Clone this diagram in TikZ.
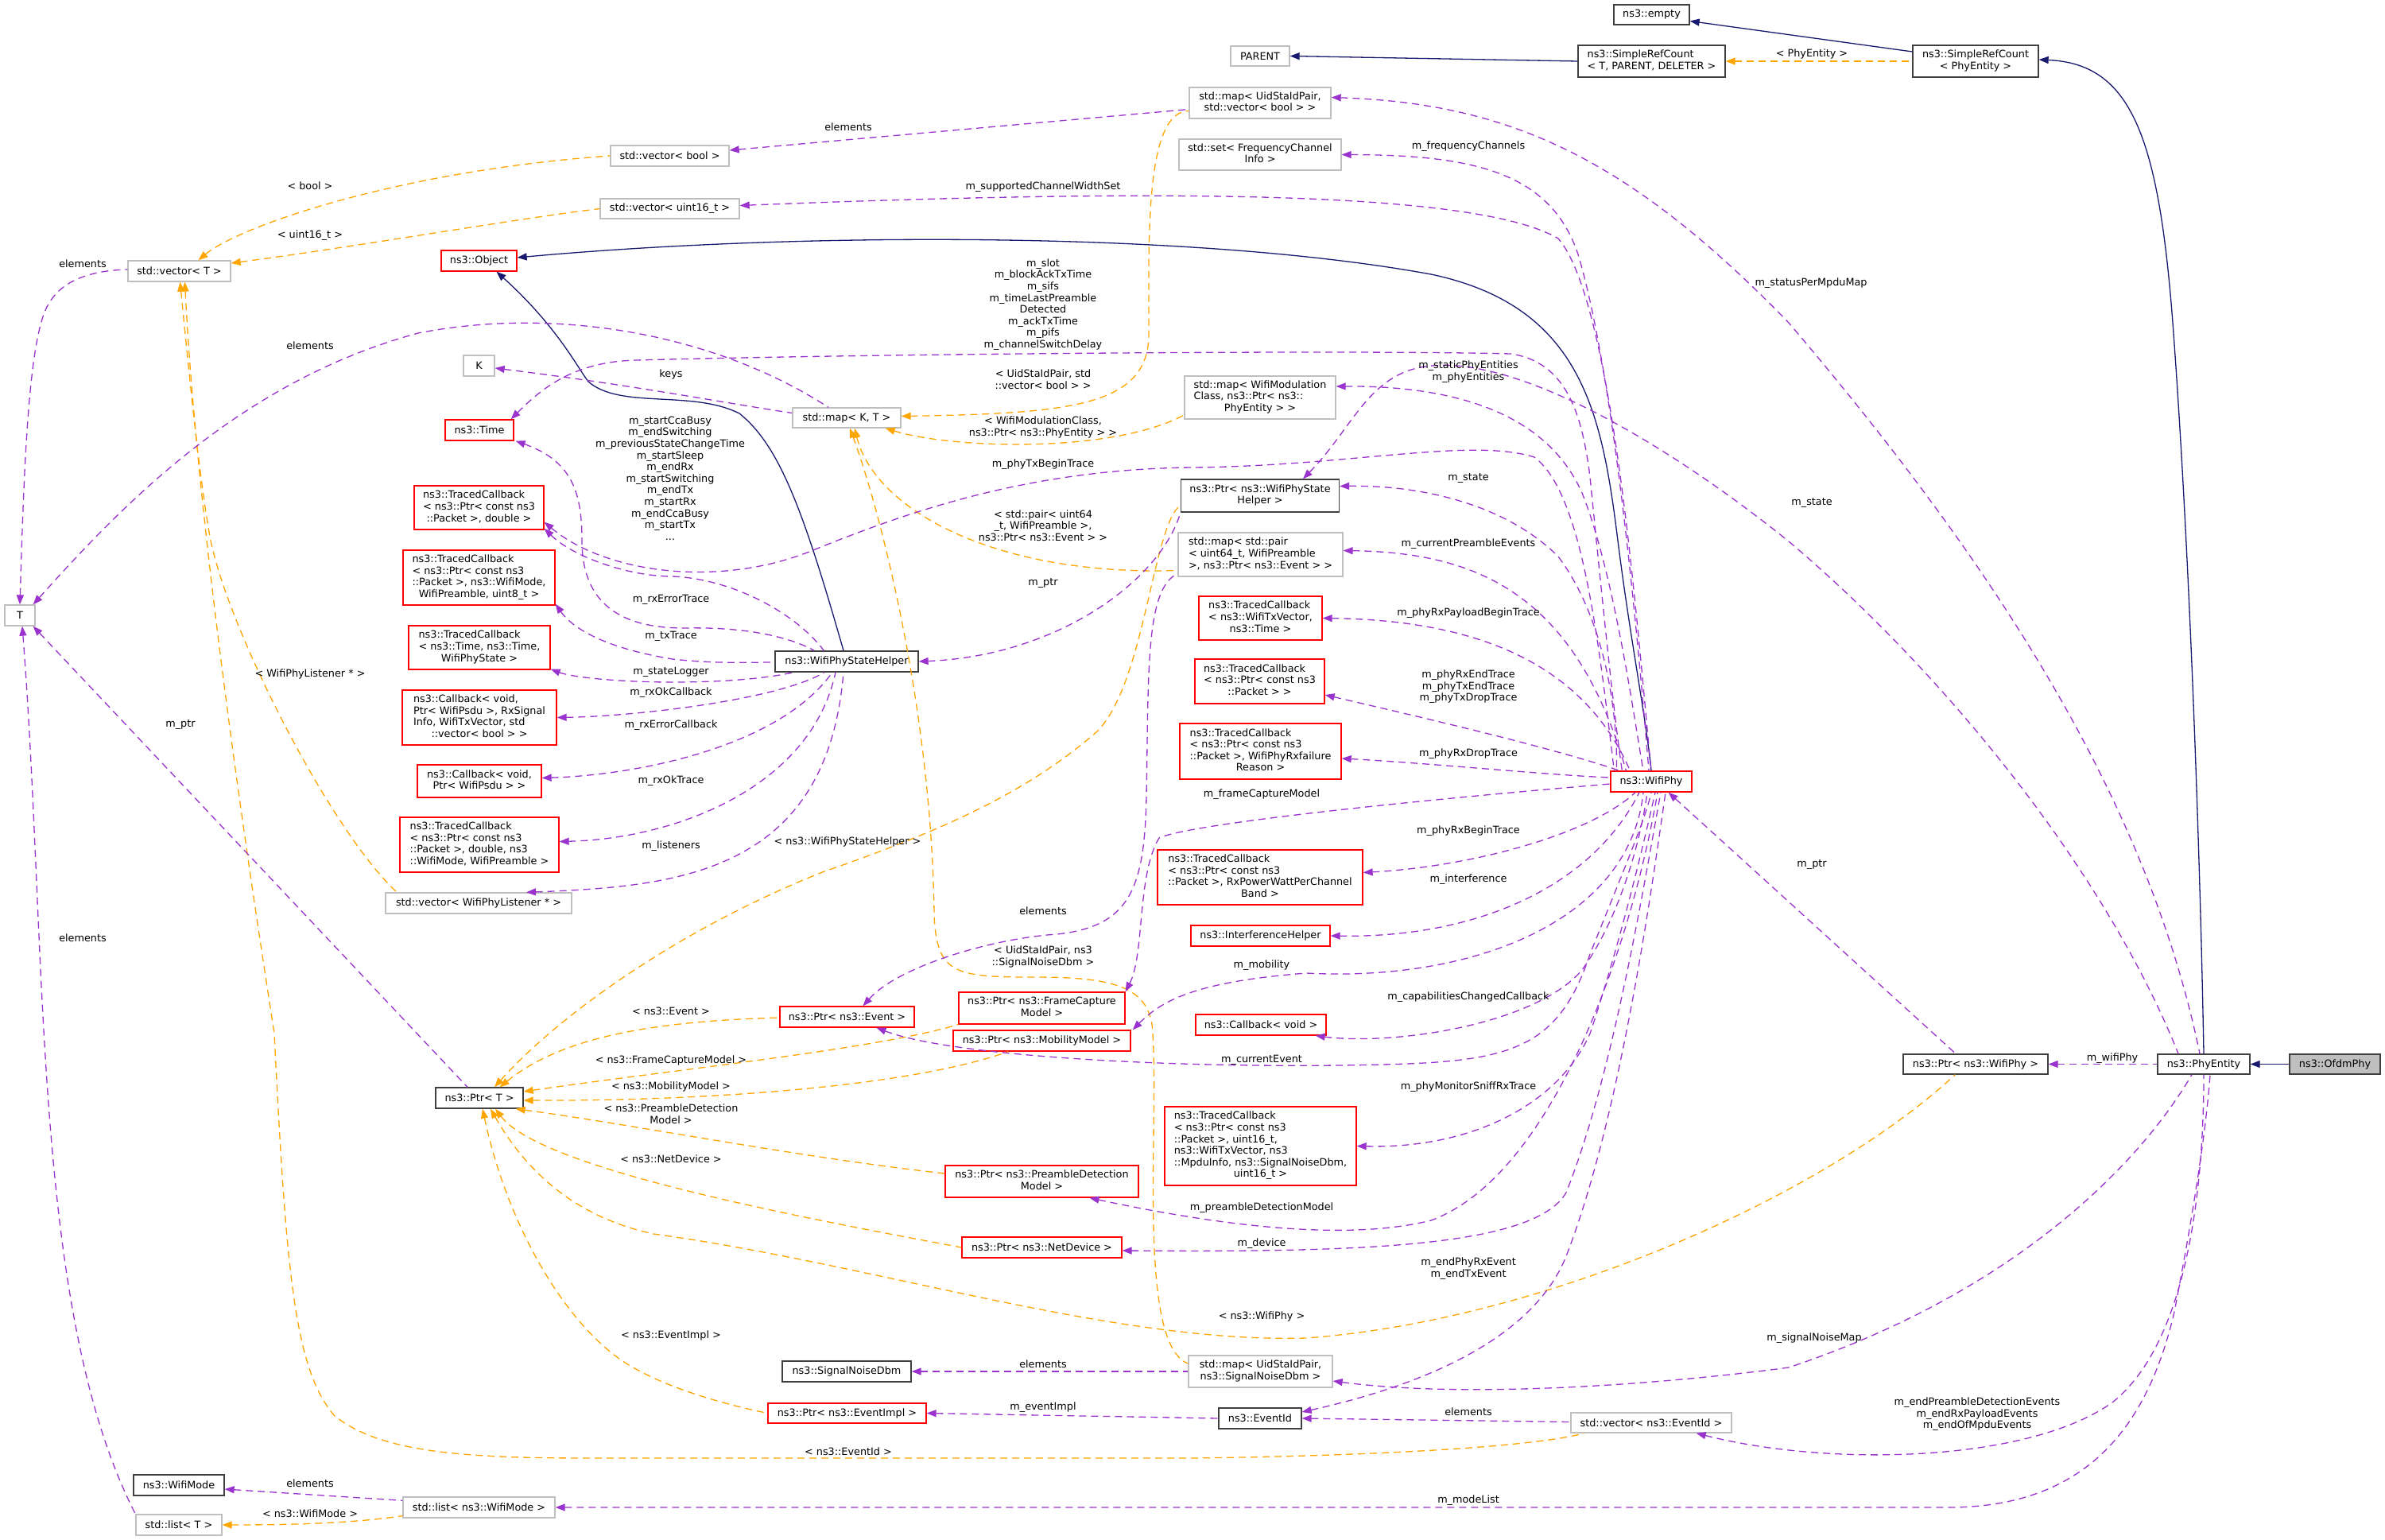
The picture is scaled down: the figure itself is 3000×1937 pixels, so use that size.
\documentclass[tikz,border=0pt]{standalone}
\usepackage{fontspec}
\setmainfont{DejaVu Sans}
\usetikzlibrary{arrows.meta,calc}
\definecolor{dxnavy}{HTML}{191970}
\definecolor{dxorange}{HTML}{FFA500}
\definecolor{dxpurple}{HTML}{9A32CD}
\definecolor{dxred}{HTML}{FF0000}
\definecolor{dxgray}{HTML}{BFBFBF}
\definecolor{dxblack}{HTML}{404040}
\newcommand{\dxfont}{\fontsize{12.8}{14.6}\selectfont}
\newcommand{\dxml}[1]{\begin{tabular}{@{}l@{}}#1\end{tabular}}
\newcommand{\dxlast}[1]{\multicolumn{1}{@{}c@{}}{#1}}
\tikzset{
  dxbox/.style={rectangle, line width=1.3pt, inner sep=2pt, font=\dxfont, fill=white},
  rbox/.style={dxbox, draw=dxred},
  gbox/.style={dxbox, draw=dxgray},
  kbox/.style={dxbox, draw=dxblack},
  fbox/.style={dxbox, draw=dxblack, fill=dxgray},
  dxlbl/.style={font=\dxfont, inner sep=0pt, align=center},
  dxinh/.style={draw=dxnavy, line width=1.3pt, arrows={Triangle[length=12pt,width=9pt]-}},
  dxtmp/.style={draw=dxorange, line width=1.3pt, dash pattern=on 9pt off 6pt, arrows={Triangle[length=12pt,width=9pt]-}},
  dxuse/.style={draw=dxpurple, line width=1.3pt, dash pattern=on 9pt off 6pt, arrows={Triangle[length=12pt,width=9pt]-}}
}
\begin{document}
\begin{tikzpicture}[x=1pt,y=-1pt]
\useasboundingbox (0,0) rectangle (3000,1937);
% ---------- edges first (under nodes) ----------
\path (0,0);
% nodes
\node[kbox,minimum width=95pt,minimum height=25pt] (empty) at (2077.5,18.5) {ns3::empty};
\node[gbox,minimum width=74pt,minimum height=25pt] (parent) at (1585,70.5) {PARENT};
\node[kbox,minimum width=185pt,minimum height=40pt] (srcTPD) at (2077.5,77) {\dxml{ns3::SimpleRefCount\\\dxlast{< T, PARENT, DELETER >}}};
\node[kbox,minimum width=158pt,minimum height=40pt] (srcPE) at (2485,77) {\dxml{ns3::SimpleRefCount\\\dxlast{< PhyEntity >}}};
\node[gbox,minimum width=178pt,minimum height=39pt] (mapUidVB) at (1585,129.5) {\dxml{std::map< UidStaIdPair,\\\dxlast{std::vector< bool > >}}};
\node[gbox,minimum width=149pt,minimum height=26pt] (vecBool) at (842.5,196) {std::vector< bool >};
\node[gbox,minimum width=204pt,minimum height=39pt] (setFCI) at (1585,194.5) {\dxml{std::set< FrequencyChannel\\\dxlast{Info >}}};
\node[gbox,minimum width=175pt,minimum height=25pt] (vecU16) at (842.5,262.5) {std::vector< uint16\_t >};
\node[rbox,minimum width=95pt,minimum height=26pt] (object) at (602.5,328) {ns3::Object};
\node[gbox,minimum width=129pt,minimum height=26pt] (vecT) at (225.5,341) {std::vector< T >};
\node[gbox,minimum width=39pt,minimum height=26pt] (K) at (602.5,460) {K};
\node[rbox,minimum width=86pt,minimum height=26pt] (time) at (603,541) {ns3::Time};
\node[gbox,minimum width=136pt,minimum height=25pt] (mapKT) at (1065,525.5) {std::map< K, T >};
\node[gbox,minimum width=190pt,minimum height=54pt] (mapWMC) at (1585,500) {\dxml{std::map< WifiModulation\\Class, ns3::Ptr< ns3::\\\dxlast{PhyEntity > >}}};
\node[kbox,minimum width=199pt,minimum height=41pt] (ptrWPSH) at (1585,623.5) {\dxml{ns3::Ptr< ns3::WifiPhyState\\\dxlast{Helper >}}};
\node[gbox,minimum width=207pt,minimum height=55pt] (mapPair) at (1585.5,697.5) {\dxml{std::map< std::pair\\< uint64\_t, WifiPreamble\\\dxlast{>, ns3::Ptr< ns3::Event > >}}};
\node[rbox,minimum width=163pt,minimum height=55pt] (tc1) at (602.5,638.5) {\dxml{ns3::TracedCallback\\< ns3::Ptr< const ns3\\\dxlast{::Packet >, double >}}};
\node[rbox,minimum width=191pt,minimum height=69pt] (tc2) at (602.5,726.5) {\dxml{ns3::TracedCallback\\< ns3::Ptr< const ns3\\::Packet >, ns3::WifiMode,\\\dxlast{WifiPreamble, uint8\_t >}}};
\node[rbox,minimum width=178pt,minimum height=55pt] (tc3) at (603,814.5) {\dxml{ns3::TracedCallback\\< ns3::Time, ns3::Time,\\\dxlast{WifiPhyState >}}};
\node[rbox,minimum width=194pt,minimum height=69pt] (cb1) at (603,902.5) {\dxml{ns3::Callback< void,\\Ptr< WifiPsdu >, RxSignal\\Info, WifiTxVector, std\\\dxlast{::vector< bool > >}}};
\node[rbox,minimum width=156pt,minimum height=41pt] (cb2) at (603,982.5) {\dxml{ns3::Callback< void,\\\dxlast{Ptr< WifiPsdu > >}}};
\node[rbox,minimum width=200pt,minimum height=69pt] (tc4) at (603,1062.5) {\dxml{ns3::TracedCallback\\< ns3::Ptr< const ns3\\::Packet >, double, ns3\\\dxlast{::WifiMode, WifiPreamble >}}};
\node[gbox,minimum width=234pt,minimum height=26pt] (vecWPL) at (602,1136) {std::vector< WifiPhyListener * >};
\node[gbox,minimum width=38pt,minimum height=26pt] (T) at (25,774) {T};
\node[kbox,minimum width=180pt,minimum height=26pt] (wpsh) at (1065,832) {ns3::WifiPhyStateHelper};
\node[rbox,minimum width=169pt,minimum height=26pt] (ptrEvent) at (1065.5,1279) {ns3::Ptr< ns3::Event >};
\node[rbox,minimum width=209pt,minimum height=40pt] (ptrFCM) at (1310.5,1268) {\dxml{ns3::Ptr< ns3::FrameCapture\\\dxlast{Model >}}};
\node[rbox,minimum width=223pt,minimum height=26pt] (ptrMob) at (1310.5,1309) {ns3::Ptr< ns3::MobilityModel >};
\node[kbox,minimum width=110pt,minimum height=26pt] (ptrT) at (603,1381) {ns3::Ptr< T >};
\node[rbox,minimum width=243pt,minimum height=40pt] (ptrPDM) at (1310.5,1486) {\dxml{ns3::Ptr< ns3::PreambleDetection\\\dxlast{Model >}}};
\node[rbox,minimum width=201pt,minimum height=26pt] (ptrND) at (1310.5,1569) {ns3::Ptr< ns3::NetDevice >};
\node[kbox,minimum width=162pt,minimum height=26pt] (snd) at (1065,1725) {ns3::SignalNoiseDbm};
\node[rbox,minimum width=199pt,minimum height=25pt] (ptrEI) at (1065.5,1777.5) {ns3::Ptr< ns3::EventImpl >};
\node[gbox,minimum width=181pt,minimum height=40pt] (mapSND) at (1585.5,1725) {\dxml{std::map< UidStaIdPair,\\\dxlast{ns3::SignalNoiseDbm >}}};
\node[kbox,minimum width=104pt,minimum height=26pt] (eventId) at (1585,1784) {ns3::EventId};
\node[gbox,minimum width=202pt,minimum height=25pt] (vecEI) at (2077,1789.5) {std::vector< ns3::EventId >};
\node[kbox,minimum width=114pt,minimum height=26pt] (wifiMode) at (225,1868) {ns3::WifiMode};
\node[gbox,minimum width=191pt,minimum height=26pt] (listWM) at (602.5,1896) {std::list< ns3::WifiMode >};
\node[gbox,minimum width=108pt,minimum height=26pt] (listT) at (225,1918) {std::list< T >};
\node[rbox,minimum width=102pt,minimum height=26pt] (wifiPhy) at (2077,983) {ns3::WifiPhy};
\node[rbox,minimum width=155pt,minimum height=55pt] (tcTxV) at (1585.5,777.5) {\dxml{ns3::TracedCallback\\< ns3::WifiTxVector,\\\dxlast{ns3::Time >}}};
\node[rbox,minimum width=163pt,minimum height=56pt] (tcPkt) at (1584.5,857) {\dxml{ns3::TracedCallback\\< ns3::Ptr< const ns3\\\dxlast{::Packet > >}}};
\node[rbox,minimum width=203pt,minimum height=70pt] (tcFail) at (1585.5,945) {\dxml{ns3::TracedCallback\\< ns3::Ptr< const ns3\\::Packet >, WifiPhyRxfailure\\\dxlast{Reason >}}};
\node[rbox,minimum width=258pt,minimum height=69pt] (tcRxPow) at (1585,1103.5) {\dxml{ns3::TracedCallback\\< ns3::Ptr< const ns3\\::Packet >, RxPowerWattPerChannel\\\dxlast{Band >}}};
\node[rbox,minimum width=175pt,minimum height=26pt] (interf) at (1585.5,1177) {ns3::InterferenceHelper};
\node[rbox,minimum width=164pt,minimum height=26pt] (cbVoid) at (1586,1289) {ns3::Callback< void >};
\node[rbox,minimum width=241pt,minimum height=99pt] (tcSniff) at (1585.5,1441.5) {\dxml{ns3::TracedCallback\\< ns3::Ptr< const ns3\\::Packet >, uint16\_t,\\ns3::WifiTxVector, ns3\\::MpduInfo, ns3::SignalNoiseDbm,\\\dxlast{uint16\_t >}}};
\node[kbox,minimum width=182pt,minimum height=25pt] (ptrWP) at (2485,1338.5) {ns3::Ptr< ns3::WifiPhy >};
\node[kbox,minimum width=116pt,minimum height=25pt] (phyEntity) at (2772,1338.5) {ns3::PhyEntity};
\node[fbox,minimum width=114pt,minimum height=25pt] (ofdm) at (2937,1338.5) {ns3::OfdmPhy};

% ---------- inheritance ----------
\draw[dxinh] ($(empty.east)+(0,8)$) -- ($(srcPE.west)+(0,-12)$);
\draw[dxinh] (parent.east) -- (srcTPD.west);
\draw[dxinh] ($(srcPE.east)+(0,-2)$) .. controls (2680,80) and (2715,170) .. (2733,406) .. controls (2755,700) and (2768,1100) .. (phyEntity.north);
\draw[dxinh] ($(object.east)+(0,-4)$) .. controls (1000,292) and (1500,290) .. (1800,345) .. controls (1990,385) and (2015,520) .. (2035,680) .. controls (2050,800) and (2070,900) .. (wifiPhy.north);
\draw[dxinh] ($(object.south)+(22,0)$) .. controls (700,410) and (725,460) .. (740,480) .. controls (780,515) and (870,490) .. (930,520) .. controls (980,560) and (1010,640) .. ($(wpsh.north)+(-4,0)$);
\draw[dxinh] (phyEntity.east) -- (ofdm.west);

% ---------- template instances ----------
\draw[dxtmp] (srcTPD.east) -- (srcPE.west);
\draw[dxtmp] ($(vecT.north)+(24,0)$) .. controls (300,285) and (500,215) .. (vecBool.west);
\draw[dxtmp] ($(vecT.east)+(0,-10)$) .. controls (450,310) and (650,275) .. (vecU16.west);
\draw[dxtmp] ($(vecT.south)+(1,0)$) .. controls (236,450) and (250,600) .. (265,680) .. controls (290,800) and (420,1050) .. ($(vecWPL.north west)+(15,0)$);
\draw[dxtmp] ($(vecT.south)+(7,0)$) .. controls (250,700) and (330,1200) .. (345,1300) .. controls (360,1600) and (370,1720) .. (420,1780) .. controls (480,1830) and (600,1834) .. (750,1834) -- (1500,1834) .. controls (1800,1830) and (1950,1815) .. ($(vecEI.south west)+(17,0)$);
\draw[dxtmp] ($(mapKT.east)+(0,-2)$) .. controls (1350,520) and (1445,510) .. (1445,420) .. controls (1445,300) and (1440,140) .. ($(mapUidVB.west)+(0,10)$);
\draw[dxtmp] ($(mapKT.south east)+(-20,0)$) .. controls (1200,565) and (1400,570) .. ($(mapWMC.west)+(0,22)$);
\draw[dxtmp] ($(mapKT.south)+(10,0)$) .. controls (1100,640) and (1250,725) .. ($(mapPair.west)+(0,20)$);
\draw[dxtmp] ($(mapKT.south)+(4,0)$) .. controls (1110,650) and (1172,900) .. (1175,1150) .. controls (1178,1225) and (1200,1229) .. (1300,1229) .. controls (1400,1229) and (1448,1240) .. (1450,1300) .. controls (1458,1420) and (1430,1690) .. ($(mapSND.west)+(0,-10)$);
\draw[dxtmp] ($(ptrT.north)+(19,0)$) .. controls (700,1280) and (850,1170) .. (1037,1096) .. controls (1200,1040) and (1300,990) .. (1380,920) .. controls (1440,860) and (1450,660) .. ($(ptrWPSH.west)+(0,12)$);
\draw[dxtmp] ($(ptrT.north east)+(-30,0)$) .. controls (700,1310) and (800,1285) .. ($(ptrEvent.west)+(0,1)$);
\draw[dxtmp] ($(ptrT.east)+(0,-8)$) .. controls (850,1345) and (1100,1320) .. (ptrFCM.south west);
\draw[dxtmp] ($(ptrT.east)+(0,3)$) .. controls (900,1385) and (1150,1365) .. ($(ptrMob.south west)+(70,0)$);
\draw[dxtmp] ($(ptrT.south east)+(-10,0)$) .. controls (800,1415) and (1000,1455) .. ($(ptrPDM.west)+(0,-10)$);
\draw[dxtmp] ($(ptrT.south)+(20,0)$) .. controls (680,1470) and (1000,1530) .. (ptrND.west);
\draw[dxtmp] ($(ptrT.south)+(14,0)$) .. controls (660,1470) and (720,1530) .. (822,1552) .. controls (1100,1590) and (1400,1690) .. (1643,1683) .. controls (1950,1660) and (2300,1500) .. ($(ptrWP.south west)+(66,0)$);
\draw[dxtmp] ($(ptrT.south)+(4,0)$) .. controls (640,1550) and (720,1680) .. (800,1722) .. controls (850,1750) and (920,1768) .. (ptrEI.west);
\draw[dxtmp] (listT.east) .. controls (380,1918) and (450,1915) .. ($(listWM.south west)+(0,-3)$);

% ---------- usage (purple) ----------
\draw[dxuse] (T.north) .. controls (30,600) and (35,420) .. (62,381) .. controls (80,350) and (120,340) .. ($(vecT.west)+(0,-2)$);
\draw[dxuse] ($(K.east)+(0,3)$) .. controls (800,485) and (900,505) .. ($(mapKT.west)+(0,-6)$);
\draw[dxuse] ($(T.north east)+(-3,0)$) .. controls (150,640) and (300,480) .. (526,419) .. controls (700,385) and (900,420) .. ($(mapKT.north)+(-23,0)$);
\draw[dxuse] ($(T.south east)+(-3,0)$) -- ($(ptrT.north)+(-15,0)$);
\draw[dxuse] ($(T.south)+(3,0)$) .. controls (60,1200) and (40,1650) .. (listT.north west);
\draw[dxuse] ($(vecBool.east)+(0,-7)$) -- ($(mapUidVB.west)+(0,8)$);
\draw[dxuse] ($(wifiMode.east)+(0,5)$) -- ($(listWM.north west)+(0,5)$);
\draw[dxuse] (snd.east) -- (mapSND.west);
\draw[dxuse] (eventId.east) -- ($(vecEI.west)+(0,-1)$);
\draw[dxuse] (ptrEI.east) -- (eventId.west);
\draw[dxuse] ($(ptrEvent.north)+(20,0)$) .. controls (1130,1215) and (1250,1180) .. (1330,1175) .. controls (1420,1165) and (1440,1120) .. (1442,1000) .. controls (1445,850) and (1440,740) .. ($(mapPair.west)+(0,24)$);
\draw[dxuse] (wpsh.east) .. controls (1330,825) and (1460,730) .. (ptrWPSH.south west);
% WifiPhyStateHelper members
\draw[dxuse] ($(tc1.south east)+(0,-2)$) .. controls (720,700) and (790,725) .. (846,725) .. controls (920,728) and (1000,770) .. ($(wpsh.north west)+(62,0)$);
\draw[dxuse] ($(time.south east)+(2,0)$) .. controls (720,580) and (732,620) .. (732,680) .. controls (732,750) and (770,790) .. (860,790) .. controls (950,788) and (1000,805) .. ($(wpsh.north west)+(50,0)$);
\draw[dxuse] ($(tc2.south east)+(0,-2)$) .. controls (720,790) and (760,815) .. (846,829) .. controls (900,835) and (940,833) .. ($(wpsh.west)+(0,1)$);
\draw[dxuse] ($(tc3.south east)+(0,-1)$) .. controls (720,852) and (780,858) .. (846,858) .. controls (920,858) and (970,852) .. ($(wpsh.south west)+(24,0)$);
\draw[dxuse] (cb1.east) .. controls (800,901) and (980,880) .. ($(wpsh.south)+(-28,0)$);
\draw[dxuse] ($(cb2.east)+(0,-4)$) .. controls (800,975) and (980,940) .. ($(wpsh.south)+(-18,0)$);
\draw[dxuse] ($(tc4.east)+(0,-4)$) .. controls (850,1055) and (1020,990) .. ($(wpsh.south)+(-14,0)$);
\draw[dxuse] ($(vecWPL.north)+(60,0)$) .. controls (850,1115) and (1040,1100) .. ($(wpsh.south)+(-4,0)$);
% WifiPhy members
\draw[dxuse] (setFCI.east) .. controls (1850,195) and (1950,215) .. (1985,320) .. controls (2030,470) and (2060,800) .. ($(wifiPhy.north)+(-3,0)$);
\draw[dxuse] ($(vecU16.east)+(0,-4)$) .. controls (1400,240) and (1850,235) .. (1960,300) .. controls (2030,380) and (2060,800) .. (wifiPhy.north);
\draw[dxuse] ($(time.north east)+(-4,0)$) .. controls (680,490) and (720,455) .. (800,453) .. controls (1100,445) and (1700,440) .. (1900,445) .. controls (1970,455) and (1990,520) .. (2000,600) .. controls (2015,750) and (2030,900) .. ($(wifiPhy.north west)+(15,0)$);
\draw[dxuse] ($(mapWMC.east)+(0,-14)$) .. controls (1850,485) and (1950,530) .. (1990,620) .. controls (2030,720) and (2055,900) .. ($(wifiPhy.north)+(-10,0)$);
\draw[dxuse] ($(ptrWPSH.east)+(0,-12)$) .. controls (1800,610) and (1900,640) .. (1960,700) .. controls (2020,780) and (2035,900) .. ($(wifiPhy.north west)+(8,0)$);
\draw[dxuse] ($(tc1.south east)+(0,-10)$) .. controls (760,720) and (900,740) .. (1018,694) .. controls (1150,640) and (1300,590) .. (1500,588) .. controls (1700,586) and (1850,550) .. (1930,575) .. controls (1990,620) and (2010,800) .. ($(wifiPhy.north west)+(5,0)$);
\draw[dxuse] ($(mapPair.east)+(0,-5)$) .. controls (1850,695) and (1980,740) .. ($(wifiPhy.north west)+(20,0)$);
\draw[dxuse] (tcTxV.east) .. controls (1850,780) and (1990,830) .. ($(wifiPhy.north west)+(25,0)$);
\draw[dxuse] ($(tcPkt.east)+(0,17)$) .. controls (1800,905) and (1950,940) .. ($(wifiPhy.north west)+(12,0)$);
\draw[dxuse] ($(tcFail.east)+(0,9)$) .. controls (1800,960) and (1950,975) .. ($(wifiPhy.west)+(0,-5)$);
\draw[dxuse] (ptrFCM.north east) .. controls (1440,1200) and (1430,1100) .. (1458,1054) .. controls (1500,1035) and (1800,1005) .. ($(wifiPhy.west)+(0,3)$);
\draw[dxuse] ($(tcRxPow.east)+(0,-6)$) .. controls (1850,1090) and (2000,1050) .. ($(wifiPhy.south)+(-20,0)$);
\draw[dxuse] (interf.east) .. controls (1850,1180) and (2000,1120) .. ($(wifiPhy.south)+(-15,0)$);
\draw[dxuse] ($(ptrMob.north east)+(2,0)$) .. controls (1460,1260) and (1500,1235) .. (1643,1224) .. controls (1850,1235) and (2050,1160) .. ($(wifiPhy.south)+(-10,0)$);
\draw[dxuse] ($(cbVoid.south east)+(-14,0)$) .. controls (1750,1315) and (1930,1290) .. (1990,1220) .. controls (2040,1150) and (2065,1050) .. ($(wifiPhy.south)+(-5,0)$);
\draw[dxuse] ($(ptrEvent.south)+(37,0)$) .. controls (1200,1330) and (1500,1345) .. (1739,1339) .. controls (1900,1335) and (1960,1320) .. (2000,1200) .. controls (2040,1100) and (2070,1030) .. (wifiPhy.south);
\draw[dxuse] (tcSniff.east) .. controls (1850,1445) and (1960,1390) .. (2000,1300) .. controls (2040,1180) and (2070,1050) .. ($(wifiPhy.south)+(5,0)$);
\draw[dxuse] ($(ptrPDM.south)+(60,0)$) .. controls (1550,1545) and (1700,1560) .. (1800,1535) .. controls (1950,1480) and (2050,1200) .. ($(wifiPhy.south)+(8,0)$);
\draw[dxuse] ($(ptrND.east)+(0,4)$) .. controls (1700,1575) and (1930,1570) .. (1970,1500) .. controls (2030,1350) and (2070,1100) .. ($(wifiPhy.south)+(12,0)$);
\draw[dxuse] ($(eventId.east)+(0,-8)$) .. controls (1800,1740) and (1930,1680) .. (1970,1580) .. controls (2040,1400) and (2080,1100) .. ($(wifiPhy.south)+(18,0)$);
% PhyEntity members
\draw[dxuse] ($(mapUidVB.east)+(0,-7)$) .. controls (1900,130) and (2050,200) .. (2250,406) .. controls (2500,700) and (2700,1000) .. ($(phyEntity.north)+(-5,0)$);
\draw[dxuse] ($(ptrWPSH.north)+(54,0)$) .. controls (1700,540) and (1720,475) .. (1787,462) .. controls (1900,440) and (2100,560) .. (2250,681) .. controls (2450,850) and (2650,1100) .. ($(phyEntity.north)+(-32,0)$);
\draw[dxuse] (ptrWP.east) -- (phyEntity.west);
\draw[dxuse] ($(mapSND.east)+(0,12)$) .. controls (1850,1760) and (2100,1740) .. (2250,1720) .. controls (2550,1620) and (2700,1450) .. ($(phyEntity.south)+(-15,0)$);
\draw[dxuse] ($(vecEI.south east)+(-45,0)$) .. controls (2300,1845) and (2550,1840) .. (2657,1764) .. controls (2750,1690) and (2772,1500) .. (phyEntity.south);
\draw[dxuse] (listWM.east) -- (2450,1896) .. controls (2620,1896) and (2700,1800) .. (2735,1650) .. controls (2760,1520) and (2775,1420) .. ($(phyEntity.south)+(8,0)$);
\draw[dxuse] ($(wifiPhy.south east)+(-30,0)$) -- ($(ptrWP.north)+(-25,0)$);

% ---------- labels ----------
\node[dxlbl] (l01) at (2279,68) {< PhyEntity >};
\node[dxlbl] (l02) at (1067,160) {elements};
\node[dxlbl] (l03) at (390,234) {< bool >};
\node[dxlbl] (l04) at (390,296) {< uint16\_t >};
\node[dxlbl] (l05) at (104,332) {elements};
\node[dxlbl] (l06) at (1847,184) {m\_frequencyChannels};
\node[dxlbl] (l07) at (1312,235) {m\_supportedChannelWidthSet};
\node[dxlbl] (l08) at (2278,356) {m\_statusPerMpduMap};
\node[dxlbl] (l09) at (1312,383) {m\_slot\\m\_blockAckTxTime\\m\_sifs\\m\_timeLastPreamble\\Detected\\m\_ackTxTime\\m\_pifs\\m\_channelSwitchDelay};
\node[dxlbl] (l10) at (390,435) {elements};
\node[dxlbl] (l11) at (844,471) {keys};
\node[dxlbl] (l12) at (1312,477) {< UidStaIdPair, std\\::vector< bool > >};
\node[dxlbl] (l13) at (1847,467.5) {m\_staticPhyEntities\\m\_phyEntities};
\node[dxlbl] (l14) at (1312,537.5) {< WifiModulationClass,\\ns3::Ptr< ns3::PhyEntity > >};
\node[dxlbl] (l15) at (1312,584) {m\_phyTxBeginTrace};
\node[dxlbl] (l16) at (843,601.5) {m\_startCcaBusy\\m\_endSwitching\\m\_previousStateChangeTime\\m\_startSleep\\m\_endRx\\m\_startSwitching\\m\_endTx\\m\_startRx\\m\_endCcaBusy\\m\_startTx\\...};
\node[dxlbl] (l17) at (2279,633) {m\_state};
\node[dxlbl] (l18) at (1847,602) {m\_state};
\node[dxlbl] (l19) at (1312,661) {< std::pair< uint64\\\_t, WifiPreamble >,\\ns3::Ptr< ns3::Event > >};
\node[dxlbl] (l20) at (1847,684) {m\_currentPreambleEvents};
\node[dxlbl] (l21) at (1312,734) {m\_ptr};
\node[dxlbl] (l22) at (844,754) {m\_rxErrorTrace};
\node[dxlbl] (l23) at (1847,771) {m\_phyRxPayloadBeginTrace};
\node[dxlbl] (l24) at (844,800) {m\_txTrace};
\node[dxlbl] (l25) at (844,845) {m\_stateLogger};
\node[dxlbl] (l26) at (390,848) {< WifiPhyListener * >};
\node[dxlbl] (l27) at (1847,864) {m\_phyRxEndTrace\\m\_phyTxEndTrace\\m\_phyTxDropTrace};
\node[dxlbl] (l28) at (844,871) {m\_rxOkCallback};
\node[dxlbl] (l29) at (227,912) {m\_ptr};
\node[dxlbl] (l30) at (844,912) {m\_rxErrorCallback};
\node[dxlbl] (l31) at (1847,948) {m\_phyRxDropTrace};
\node[dxlbl] (l32) at (844,982) {m\_rxOkTrace};
\node[dxlbl] (l33) at (1587,999) {m\_frameCaptureModel};
\node[dxlbl] (l34) at (1847,1045) {m\_phyRxBeginTrace};
\node[dxlbl] (l35) at (1066,1059) {< ns3::WifiPhyStateHelper >};
\node[dxlbl] (l36) at (844,1064) {m\_listeners};
\node[dxlbl] (l37) at (2279,1088) {m\_ptr};
\node[dxlbl] (l38) at (1847,1106) {m\_interference};
\node[dxlbl] (l39) at (1312,1146) {elements};
\node[dxlbl] (l40) at (104,1180) {elements};
\node[dxlbl] (l41) at (1312,1203.5) {< UidStaIdPair, ns3\\::SignalNoiseDbm >};
\node[dxlbl] (l42) at (1587,1214) {m\_mobility};
\node[dxlbl] (l43) at (1847,1254) {m\_capabilitiesChangedCallback};
\node[dxlbl] (l44) at (844,1272) {< ns3::Event >};
\node[dxlbl] (l45) at (2657,1331) {m\_wifiPhy};
\node[dxlbl] (l46) at (1587,1333) {m\_currentEvent};
\node[dxlbl] (l47) at (844,1334) {< ns3::FrameCaptureModel >};
\node[dxlbl] (l48) at (1847,1367) {m\_phyMonitorSniffRxTrace};
\node[dxlbl] (l49) at (844,1367) {< ns3::MobilityModel >};
\node[dxlbl] (l50) at (844,1401) {< ns3::PreambleDetection\\Model >};
\node[dxlbl] (l51) at (844,1458) {< ns3::NetDevice >};
\node[dxlbl] (l52) at (1587,1519) {m\_preambleDetectionModel};
\node[dxlbl] (l53) at (1587,1564) {m\_device};
\node[dxlbl] (l54) at (1847,1595.5) {m\_endPhyRxEvent\\m\_endTxEvent};
\node[dxlbl] (l55) at (1587,1656) {< ns3::WifiPhy >};
\node[dxlbl] (l56) at (844,1680) {< ns3::EventImpl >};
\node[dxlbl] (l57) at (2282,1683) {m\_signalNoiseMap};
\node[dxlbl] (l58) at (1312,1716) {elements};
\node[dxlbl] (l59) at (2487,1779) {m\_endPreambleDetectionEvents\\m\_endRxPayloadEvents\\m\_endOfMpduEvents};
\node[dxlbl] (l60) at (1312,1770) {m\_eventImpl};
\node[dxlbl] (l61) at (1847,1776) {elements};
\node[dxlbl] (l62) at (1067,1826) {< ns3::EventId >};
\node[dxlbl] (l63) at (390,1866) {elements};
\node[dxlbl] (l64) at (1847,1887) {m\_modeList};
\node[dxlbl] (l65) at (390,1904) {< ns3::WifiMode >};
\end{tikzpicture}
\end{document}
